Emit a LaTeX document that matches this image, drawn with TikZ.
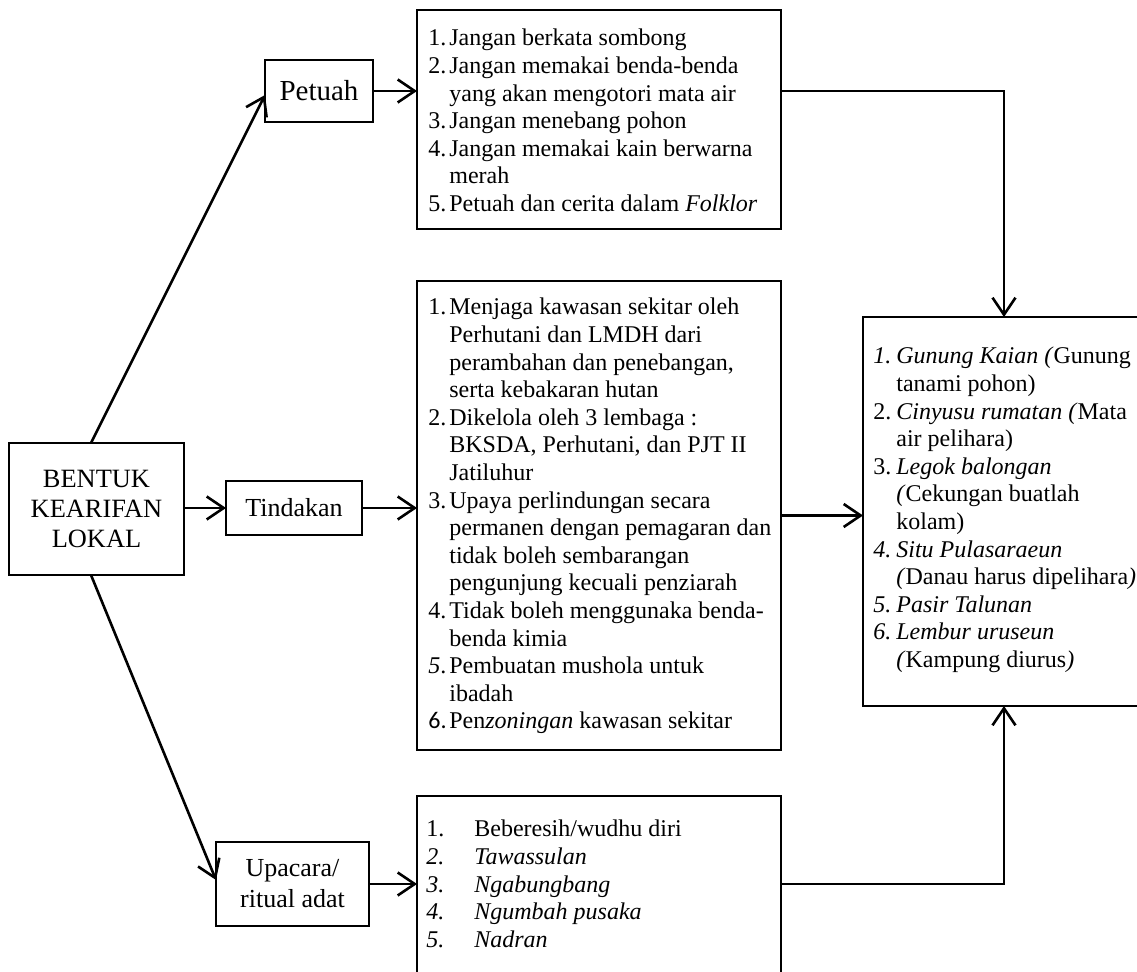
\documentclass[tikz,border=0pt]{standalone}
\usepackage{fontspec}
\setmainfont{Liberation Serif}
\newfontfamily\calfont{Carlito}
\usepackage{array}
\usetikzlibrary{arrows.meta,calc}
\tikzset{
  box/.style={draw, line width=1.1pt, inner sep=0pt, outer sep=0pt, align=center},
  conn/.style={line width=1.3pt, -{Straight Barb[length=8.5pt,width=11.5pt,line width=1.3pt]}},
  lst/.style={anchor=base west, inner sep=0pt, font={\fontsize{12}{13.8}\selectfont}},
}
\begin{document}
\begin{tikzpicture}[x=0.5pt,y=-0.5pt]
\useasboundingbox (0,0) rectangle (1137,972);
% boxes
\node[box, minimum width=87.5pt, minimum height=66pt, font={\fontsize{13.2}{15.2}\selectfont}] (bentuk) at (96.5,509) {BENTUK\\KEARIFAN\\LOKAL};
\node[box, minimum width=54pt, minimum height=31pt, font={\fontsize{14.5}{16}\selectfont}] (petuah) at (319,91) {Petuah};
\node[box, minimum width=68pt, minimum height=27pt, font={\fontsize{13}{15}\selectfont}] (tindakan) at (294,508) {Tindakan};
\node[box, minimum width=76.5pt, minimum height=42pt, font={\fontsize{13}{15.5}\selectfont}] (upacara) at (292.5,884) {Upacara/\\ritual adat};
\node[box, minimum width=182pt, minimum height=109.5pt] (toplist) at (599,119.5) {};
\node[box, minimum width=182pt, minimum height=234.5pt] (midlist) at (599,515.5) {};
\node[box, minimum width=182pt, minimum height=107pt] (botlist) at (599,903) {};
\node[box, minimum width=153.5pt, minimum height=194.5pt] (right) at (1016.5,511.5) {};
% texts
\node[lst] (toptext) at (428,46) {\begin{tabular}[t]{@{}p{10.5pt}@{}l@{}}
1. & Jangan berkata sombong\\
2. & Jangan memakai benda-benda\\
   & yang akan mengotori mata air\\
3. & Jangan menebang pohon\\
4. & Jangan memakai kain berwarna\\
   & merah\\
5. & Petuah dan cerita dalam \textit{Folklor}
\end{tabular}};
\node[lst] (midtext) at (428,315) {\begin{tabular}[t]{@{}p{10.5pt}@{}l@{}}
1. & Menjaga kawasan sekitar oleh\\
   & Perhutani dan LMDH dari\\
   & perambahan dan penebangan,\\
   & serta kebakaran hutan\\
2. & Dikelola oleh 3 lembaga :\\
   & BKSDA, Perhutani, dan PJT II\\
   & Jatiluhur\\
3. & Upaya perlindungan secara\\
   & permanen dengan pemagaran dan\\
   & tidak boleh sembarangan\\
   & pengunjung kecuali penziarah\\
4. & Tidak boleh menggunaka benda-\\
   & benda kimia\\
\textit{5}. & Pembuatan mushola untuk\\
   & ibadah\\
{\calfont 6.} & Pen\textit{zoningan} kawasan sekitar
\end{tabular}};
\node[lst] (righttext) at (873,364) {\begin{tabular}[t]{@{}p{11.5pt}@{}l@{}}
\textit{1.} & \textit{Gunung Kaian (}Gunung\\
   & tanami pohon)\\
2. & \textit{Cinyusu rumatan (}Mata\\
   & air pelihara)\\
3. & \textit{Legok balongan}\\
   & \textit{(}Cekungan buatlah\\
   & kolam)\\
\textit{4.} & \textit{Situ Pulasaraeun}\\
   & \textit{(}Danau harus dipelihara\textit{)}\\
\textit{5.} & \textit{Pasir Talunan}\\
\textit{6.} & \textit{Lembur uruseun}\\
   & \textit{(}Kampung diurus\textit{)}
\end{tabular}};
\node[lst] (bottext) at (426,837) {\begin{tabular}[t]{@{}p{24pt}@{}l@{}}
1. & Beberesih/wudhu diri\\
\textit{2.} & \textit{Tawassulan}\\
\textit{3.} & \textit{Ngabungbang}\\
\textit{4.} & \textit{Ngumbah pusaka}\\
\textit{5.} & \textit{Nadran}
\end{tabular}};
% connectors
\coordinate (rx) at (1004,0);
\draw[conn] ([xshift=41pt]bentuk.north west) -- ([yshift=-2pt]petuah.west);
\draw[conn] ([xshift=41pt]bentuk.south west) -- ([yshift=2pt]upacara.west);
\draw[conn] (bentuk.east |- tindakan.west) -- (tindakan.west);
\draw[conn] (tindakan.east) -- (tindakan.east -| midlist.west);
\draw[conn] (petuah.east) -- (petuah.east -| toplist.west);
\draw[conn] (upacara.east) -- (upacara.east -| botlist.west);
\draw[conn] (midlist.east) -- (midlist.east -| right.west);
\draw[conn] (toplist.east |- petuah.east) -| (rx |- right.north);
\draw[conn] (botlist.east |- upacara.east) -| (rx |- right.south);
\end{tikzpicture}
\end{document}
